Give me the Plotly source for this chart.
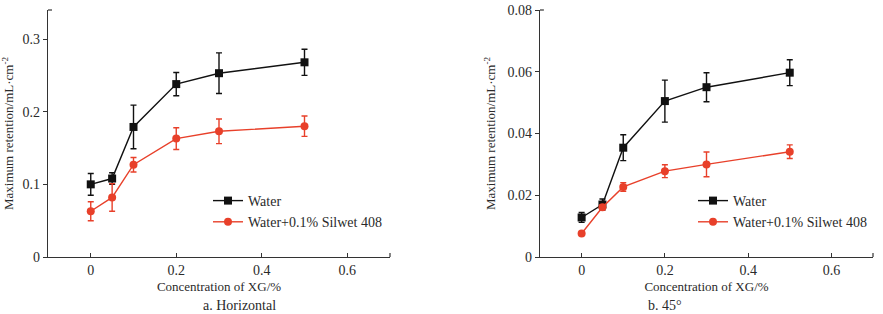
import plotly.graph_objects as go

# ---- data ----
xg = [0, 0.05, 0.1, 0.2, 0.3, 0.5]

# a. Horizontal
h_water = [0.100, 0.108, 0.179, 0.238, 0.253, 0.268]
h_water_err = [0.015, 0.008, 0.030, 0.016, 0.028, 0.018]
h_silwet = [0.063, 0.082, 0.127, 0.163, 0.173, 0.180]
h_silwet_err = [0.013, 0.019, 0.010, 0.015, 0.017, 0.014]

# b. 45°
d_water = [0.0128, 0.0170, 0.0354, 0.0505, 0.0550, 0.0597]
d_water_err = [0.0016, 0.0018, 0.0042, 0.0068, 0.0047, 0.0042]
d_silwet = [0.0076, 0.0161, 0.0227, 0.0278, 0.0300, 0.0341]
d_silwet_err = [0.0003, 0.0008, 0.0014, 0.0021, 0.0040, 0.0022]

x_ticks = [0, 0.2, 0.4, 0.6]
h_yticks = [0, 0.1, 0.2, 0.3]
d_yticks = [0, 0.02, 0.04, 0.06, 0.08]

series_names = ["Water", "Water+0.1% Silwet 408"]
BLACK = "#111111"
RED = "#e8402a"
FONT = "Liberation Serif, Times New Roman, serif"
TXT = "#2a2a2a"

W, H = 883, 314
fig = go.Figure()


def add_series(x, y, err, name, color, symbol, xa, ya, legend, show):
    fig.add_trace(go.Scatter(
        x=x, y=y, name=name, mode="lines+markers",
        xaxis=xa, yaxis=ya, legend=legend, showlegend=show,
        line=dict(color=color, width=1.4),
        marker=dict(color=color, symbol=symbol, size=8, line=dict(width=0)),
        error_y=dict(type="data", array=err, visible=True, color=color,
                     thickness=1.4, width=3),
    ))


add_series(xg, h_water, h_water_err, series_names[0], BLACK, "square", "x", "y", "legend", True)
add_series(xg, h_silwet, h_silwet_err, series_names[1], RED, "circle", "x", "y", "legend", True)
add_series(xg, d_water, d_water_err, series_names[0], BLACK, "square", "x2", "y2", "legend2", True)
add_series(xg, d_silwet, d_silwet_err, series_names[1], RED, "circle", "x2", "y2", "legend2", True)

# plot-area pixel boxes
L1, R1 = 48, 390
L2, R2 = 540, 873
TOP, BOT = 10, 257
ydom = [1 - BOT / H, 1 - TOP / H]

axis_common = dict(
    showline=True, linecolor="#333333", linewidth=1.3, showgrid=False,
    zeroline=False, ticklen=4, tickwidth=1.2, tickcolor="#333333",
    tickfont=dict(family=FONT, size=14, color=TXT), automargin=False,
)

fig.update_layout(
    width=W, height=H, margin=dict(l=0, r=0, t=0, b=0, autoexpand=False),
    paper_bgcolor="white", plot_bgcolor="white",
    font=dict(family=FONT, size=13, color=TXT),
    xaxis=dict(domain=[L1 / W, R1 / W], range=[-0.1, 0.7], tickvals=x_ticks,
               ticks="inside", anchor="y",
               title=dict(text="Concentration of XG/%", standoff=4,
                          font=dict(family=FONT, size=13, color=TXT)),
               **axis_common),
    yaxis=dict(domain=ydom, range=[0, 0.34], tickvals=h_yticks,
               ticks="outside", anchor="x",
               title=dict(text="Maximum retention/mL·cm<sup>-2</sup>", standoff=14,
                          font=dict(family=FONT, size=13, color=TXT)),
               **axis_common),
    xaxis2=dict(domain=[L2 / W, R2 / W], range=[-0.1, 0.7], tickvals=x_ticks,
                ticks="inside", anchor="y2",
                title=dict(text="Concentration of XG/%", standoff=4,
                           font=dict(family=FONT, size=13, color=TXT)),
                **axis_common),
    yaxis2=dict(domain=ydom, range=[0, 0.08], tickvals=d_yticks,
                ticks="outside", anchor="x2",
                title=dict(text="Maximum retention/mL·cm<sup>-2</sup>", standoff=8,
                           font=dict(family=FONT, size=13, color=TXT)),
                **axis_common),
    legend=dict(x=208 / W, y=1 - 185 / H, xanchor="left", yanchor="top",
                bgcolor="rgba(0,0,0,0)", font=dict(family=FONT, size=14, color=TXT),
                itemwidth=30, tracegroupgap=0),
    legend2=dict(x=693 / W, y=1 - 185 / H, xanchor="left", yanchor="top",
                 bgcolor="rgba(0,0,0,0)", font=dict(family=FONT, size=14, color=TXT),
                 itemwidth=30, tracegroupgap=0),
)

# end caps at axis ends (top of y-axis, right end of x-axis)
for xd, yd in (("x domain", "y domain"), ("x2 domain", "y2 domain")):
    fig.add_shape(type="line", xref=xd, yref=yd, x0=0, x1=4 / (R1 - L1), y0=1, y1=1,
                  line=dict(color="#333333", width=1.2))
    fig.add_shape(type="line", xref=xd, yref=yd, x0=1, x1=1, y0=0, y1=4 / (BOT - TOP),
                  line=dict(color="#333333", width=1.2))

# panel captions
fig.add_annotation(text="a. Horizontal", x=201 / W, y=1 - 305 / H, xref="paper", yref="paper",
                   yanchor="middle", showarrow=False, font=dict(family=FONT, size=14, color=TXT))
fig.add_annotation(text="b. 45°", x=684 / W, y=1 - 305 / H, xref="paper", yref="paper",
                   yanchor="middle", showarrow=False, font=dict(family=FONT, size=14, color=TXT))

fig.write_html("out.html")
